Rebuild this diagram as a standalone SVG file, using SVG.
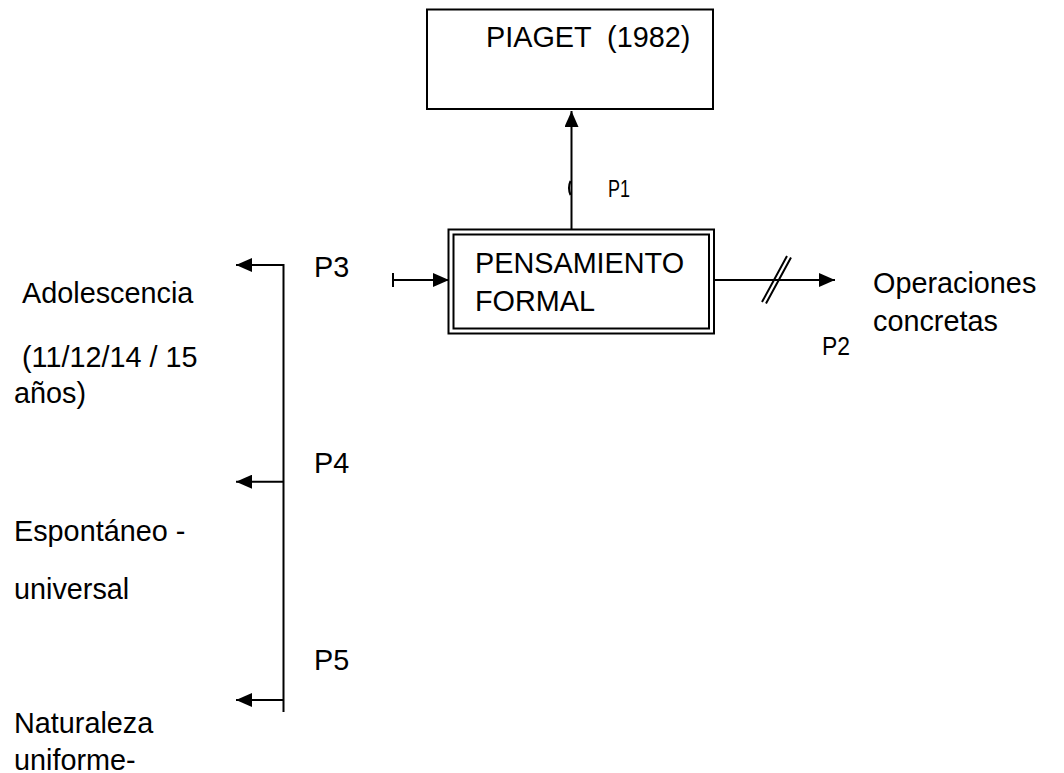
<svg xmlns="http://www.w3.org/2000/svg" width="1064" height="773" viewBox="0 0 1064 773">
<style>
text{font-family:"Liberation Sans",Arial,sans-serif;fill:#000;font-size:28.8px}
.sm{font-size:23px}
.box{fill:#fff;stroke:#000;stroke-width:2}
.ln{fill:none;stroke:#000;stroke-width:2}
</style>
<defs>
<marker id="ah" viewBox="0 0 16 14" refX="16" refY="7" markerWidth="16" markerHeight="14" markerUnits="userSpaceOnUse" orient="auto"><path d="M0,0 L16,7 L0,14 z" fill="#000"/></marker>
</defs>
<rect width="1064" height="773" fill="#fff"/>
<g id="connectors">
<path class="ln" d="M571.5,234 V111" marker-end="url(#ah)"/>
<path class="ln" d="M570.5,181 Q567.5,188 570.5,195" stroke-width="1.5"/>
<path class="ln" d="M393,280 H449" marker-end="url(#ah)"/>
<path class="ln" d="M393,273 V287"/>
<path class="ln" d="M714,280 H835" marker-end="url(#ah)"/>
<path class="ln" d="M762,302 L787,256 M766,303.5 L791,257.5" stroke-width="1.6"/>
<path class="ln" d="M283.5,712 V265 H236" marker-end="url(#ah)"/>
<path class="ln" d="M283.5,481.7 H236" marker-end="url(#ah)"/>
<path class="ln" d="M283.5,700 H236" marker-end="url(#ah)"/>
</g>
<g id="piaget">
<rect class="box" x="427" y="9.5" width="286" height="99.5"/>
<text x="486" y="47" xml:space="preserve">PIAGET  (1982)</text>
</g>
<g id="pensamiento">
<rect class="box" x="448.5" y="229.5" width="265.5" height="104"/>
<rect class="box" x="453.5" y="234.5" width="255.5" height="94"/>
<text x="475" y="273">PENSAMIENTO</text>
<text x="475" y="310.5">FORMAL</text>
</g>
<g id="operaciones">
<text x="873" y="293">Operaciones</text>
<text x="873" y="330.5">concretas</text>
</g>
<g id="labels">
<text class="sm" x="608" y="197" textLength="22" lengthAdjust="spacingAndGlyphs">P1</text>
<text x="822" y="355" style="font-size:25.5px" textLength="28" lengthAdjust="spacingAndGlyphs">P2</text>
<text x="314" y="277">P3</text>
<text x="314" y="473">P4</text>
<text x="314" y="670">P5</text>
</g>
<g id="adolescencia">
<text x="22" y="303">Adolescencia</text>
<text x="22" y="367">(11/12/14 / 15</text>
<text x="14" y="403">años)</text>
</g>
<g id="espontaneo">
<text x="14" y="541">Espontáneo -</text>
<text x="14" y="599">universal</text>
</g>
<g id="naturaleza">
<text x="14" y="733">Naturaleza</text>
<text x="14" y="770">uniforme-</text>
</g>
</svg>
